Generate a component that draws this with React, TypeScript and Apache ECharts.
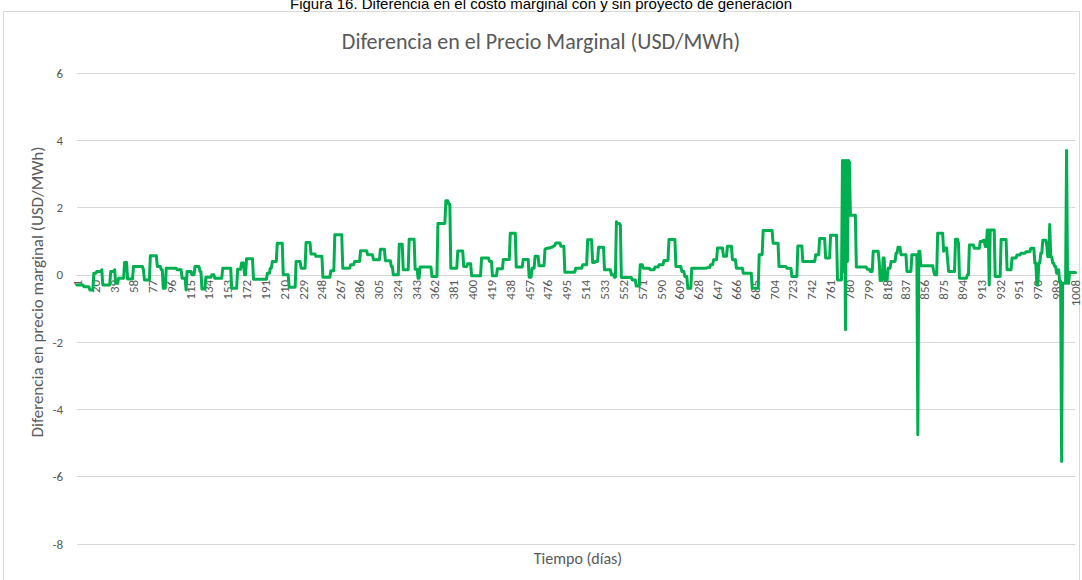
import React, { useEffect, useRef } from "react";
import * as echarts from "echarts";

const figureCaption = "Figura 16. Diferencia en el costo marginal con y sin proyecto de generación";
const chartTitle = "Diferencia en el Precio Marginal (USD/MWh)";
const yAxisTitle = "Diferencia en precio marginal (USD/MWh)";
const xAxisTitle = "Tiempo (días)";

const yTicks = { min: -8, max: 6, interval: 2 };

// Daily difference in marginal price (USD/MWh), days 1..1008
const diferencia: number[] = [
  // 1-20
  -0.3,-0.3,-0.3,-0.3,-0.3,-0.3,-0.3,-0.35,-0.35,-0.35,-0.35,-0.35,-0.35,-0.45,-0.45,-0.45,-0.45,0.05,0.05,0.05,
  // 21-40
  0.1,0.1,0.1,0.1,0.1,0.15,-0.3,-0.3,-0.3,-0.3,-0.3,-0.3,-0.3,-0.3,0.1,0.1,0.1,0.1,0.15,-0.25,
  // 41-60
  -0.25,-0.25,-0.1,-0.1,-0.1,-0.1,-0.1,-0.1,0.37,0.37,0.37,-0.12,-0.12,-0.12,-0.12,-0.12,-0.12,0.25,0.25,0.25,
  // 61-80
  0.25,0.25,0.25,0.25,0.25,0.25,0.25,0.15,-0.15,-0.15,-0.15,-0.15,-0.15,-0.15,0.57,0.57,0.57,0.57,0.57,0.57,
  // 81-100
  0.57,0.25,0.25,0.25,0.25,0.15,0.15,-0.4,-0.4,-0.4,0.2,0.2,0.2,0.2,0.2,0.2,0.2,0.2,0.2,0.2,
  // 101-120
  0.2,0.15,0.15,0.15,0.15,0.15,-0.1,-0.1,-0.1,-0.1,-0.45,0.1,0.1,0.1,0.1,0.1,0,0,0,0.25,
  // 121-140
  0.25,0.25,0.25,0.25,0.1,0.1,-0.42,-0.42,-0.42,-0.42,-0.07,-0.07,-0.07,-0.07,-0.07,-0.07,0,0,0,-0.1,
  // 141-160
  -0.1,-0.1,-0.1,-0.1,-0.1,-0.1,-0.1,0.2,0.2,0.2,0.2,0.2,0.2,0.2,0.2,0.2,-0.4,-0.4,-0.4,-0.4,
  // 161-180
  -0.4,-0.4,0.17,0.17,0.17,0.17,0.35,0.35,0.35,0,0,0.48,0.48,0.48,0.48,0.48,0.48,0.48,-0.13,-0.13,
  // 181-200
  -0.13,-0.13,-0.13,-0.13,-0.13,-0.13,-0.13,-0.13,-0.13,-0.13,-0.13,-0.13,0.05,0.05,0.05,0.2,0.2,0.4,0.4,0.4,
  // 201-220
  0.4,0.4,0.94,0.94,0.94,0.94,0.94,0.94,0,0,0,0,0,0,-0.37,-0.37,-0.37,-0.37,-0.37,-0.37,
  // 221-240
  -0.37,0.4,0.4,0.4,0.4,0.4,0.2,0.2,0.2,0.2,0.2,0.96,0.96,0.96,0.96,0.96,0.62,0.62,0.62,0.62,
  // 241-260
  0.62,0.55,0.55,0.55,0.55,0.55,0.55,0.55,-0.07,-0.07,-0.07,-0.07,-0.07,-0.07,-0.07,-0.07,0.12,0.12,0.12,0.12,
  // 261-280
  1.19,1.19,1.19,1.19,1.19,1.19,1.19,1.19,0.2,0.2,0.2,0.2,0.2,0.2,0.2,0.2,0.3,0.3,0.3,0.3,
  // 281-300
  0.4,0.4,0.4,0.4,0.4,0.4,0.72,0.72,0.72,0.72,0.72,0.72,0.72,0.6,0.6,0.6,0.6,0.6,0.6,0.45,
  // 301-320
  0.45,0.45,0.45,0.45,0.45,0.45,0.76,0.76,0.76,0.76,0.76,0.42,0.42,0.42,0.42,0.42,0.42,0.25,0.25,0,
  // 321-340
  0,0,0,0,0,0.91,0.91,0.91,0.91,0.15,0.15,0.15,0.15,0.15,0.15,1.06,1.06,1.06,1.06,1.06,
  // 341-360
  1.06,0.17,0.17,0.17,-0.1,-0.1,0.23,0.23,0.23,0.23,0.23,0.23,0.23,0.23,0.23,0.23,0.23,0.23,-0.05,-0.05,
  // 361-380
  -0.05,-0.05,-0.05,-0.05,1.53,1.53,1.53,1.53,1.53,1.53,1.53,1.53,2.2,2.2,2.2,2.1,2.1,0.2,0.2,0.2,
  // 381-400
  0.2,0.2,0.2,0.2,0.71,0.71,0.71,0.71,0.71,0.71,0.25,0.25,0.25,0.25,0.33,0.33,0.33,0.33,-0.03,-0.03,
  // 401-420
  -0.03,-0.03,-0.03,-0.03,-0.03,-0.03,-0.03,-0.03,0.5,0.5,0.5,0.5,0.5,0.5,0.5,0.5,0.4,0.4,0.4,-0.03,
  // 421-440
  -0.03,-0.03,-0.03,-0.03,0.18,0.18,0.18,0.18,0.18,0.18,0.46,0.46,0.46,0.46,0.46,0.46,0.46,1.24,1.24,1.24,
  // 441-460
  1.24,1.24,1.24,0.23,0.23,0.23,0.23,0.23,0.23,0.23,0.46,0.46,0.46,0.46,0.46,0.46,-0.07,-0.07,-0.07,0.2,
  // 461-480
  0.2,0.2,0.55,0.55,0.55,0.55,0.27,0.27,0.27,0.27,0.27,0.27,0.76,0.78,0.78,0.8,0.8,0.8,0.82,0.82,
  // 481-500
  0.84,0.86,0.88,0.95,0.95,0.95,0.95,0.95,0.85,0.85,0.85,0.85,0.08,0.08,0.08,0.08,0.08,0.08,0.08,0.08,
  // 501-520
  0.08,0.08,0.08,0.2,0.2,0.2,0.2,0.2,0.2,0.2,0.3,0.3,0.3,0.3,0.3,1.04,1.04,1.04,1.04,1.04,
  // 521-540
  0.37,0.37,0.37,0.4,0.4,0.4,0.82,0.82,0.82,0.82,0.82,0.82,0.15,0.15,0.15,0.15,0.15,0.15,0.15,0,
  // 541-560
  0,0,-0.07,-0.07,1.58,1.53,1.53,1.53,1.48,-0.08,-0.08,-0.08,-0.08,-0.08,-0.08,-0.08,-0.08,-0.08,-0.08,-0.08,
  // 561-580
  -0.15,-0.15,-0.15,-0.15,-0.33,-0.33,-0.33,-0.33,0.3,0.3,0.3,0.2,0.2,0.2,0.2,0.2,0.2,0.2,0.15,0.15,
  // 581-600
  0.15,0.15,0.15,0.23,0.23,0.23,0.23,0.3,0.3,0.3,0.3,0.3,0.43,0.43,0.43,0.43,0.43,1.05,1.05,1.05,
  // 601-620
  1.05,1.05,1.05,1.05,0.25,0.25,0.25,0.25,0.25,0.25,0.1,0.1,0.1,-0.05,-0.05,-0.05,-0.4,-0.4,-0.4,-0.4,
  // 621-640
  0.2,0.2,0.2,0.2,0.2,0.2,0.2,0.2,0.2,0.2,0.2,0.2,0.2,0.2,0.2,0.2,0.22,0.22,0.22,0.3,
  // 641-660
  0.3,0.3,0.45,0.45,0.45,0.45,0.8,0.8,0.8,0.8,0.8,0.8,0.55,0.55,0.55,0.55,0.85,0.85,0.85,0.85,
  // 661-680
  0.85,0.45,0.45,0.45,0.45,0.2,0.2,0.2,0.2,0.2,0.2,0.2,0.05,0.05,0.05,0.05,0.05,0.05,0.05,0.05,
  // 681-700
  0.05,-0.4,-0.4,-0.4,-0.4,-0.4,-0.4,-0.4,0.6,0.6,0.6,0.6,1.32,1.32,1.32,1.32,1.32,1.32,1.32,1.32,
  // 701-720
  1.32,1.32,0.94,0.94,0.94,0.94,0.94,0.94,0.25,0.25,0.25,0.25,0.25,0.25,0.25,0.25,0.2,0.2,0.2,0.2,
  // 721-740
  0.2,-0.05,-0.05,-0.05,-0.05,-0.05,-0.05,0.86,0.86,0.86,0.86,0.86,0.4,0.4,0.4,0.4,0.4,0.4,0.4,0.4,
  // 741-760
  0.4,0.4,0.4,0.4,0.4,0.6,0.6,0.6,0.6,1.08,1.08,1.08,1.08,1.08,1.08,0.5,0.5,0.5,0.5,0.5,
  // 761-780
  1.18,1.18,1.18,1.18,1.18,1.18,1.18,-0.15,-0.15,-0.15,-0.15,-0.15,3.4,0.1,3.4,-1.63,3.4,0.4,3.4,3.35,
  // 781-800
  1.77,1.77,1.77,1.77,1.77,1.77,0.23,0.23,0.23,0.23,0.23,0.23,0.23,0.23,0.23,0.23,0.23,0.17,0.17,0.17,
  // 801-820
  0.1,0.1,0.1,0.7,0.7,0.7,0.7,0.7,0.7,0.4,-0.17,-0.17,-0.17,0.5,0.5,-0.15,-0.15,-0.15,0.2,0.2,
  // 821-840
  0.2,0.4,0.4,0.4,0.4,0.4,0.64,0.64,0.82,0.82,0.82,0.6,0.6,0.6,0.6,0.6,0.6,0.1,0.1,0.1,
  // 841-860
  0.1,0.1,0.6,0.6,0.6,0.6,0.6,0.6,-4.75,0.7,0.7,0.27,0.27,0.27,0.27,0.27,0.27,0.27,0.27,0.27,
  // 861-880
  0.27,0.27,0.27,0.27,0.1,0,0,0,1.24,1.24,1.24,1.24,1.24,1.24,0.7,0.8,0.8,0.8,0.45,0.1,
  // 881-900
  0.1,0.1,0.1,0.1,0.1,0.1,1.06,1.06,1.06,0.94,-0.1,-0.1,-0.1,-0.1,-0.1,-0.1,-0.1,-0.1,0,0,
  // 901-920
  0.89,0.89,0.89,0.89,0.89,0.79,0.79,0.79,0.79,0.79,0.79,0.99,0.99,0.99,1.03,1.03,0.84,0.84,1.33,1.33,
  // 921-940
  -0.3,1.33,1.33,1.33,1.33,1.33,-0.05,-0.05,-0.05,-0.05,-0.05,-0.05,1.05,1.05,1.05,1.05,1.05,1.05,0.15,0.15,
  // 941-960
  0.15,0.15,0.15,0.5,0.5,0.5,0.5,0.5,0.59,0.59,0.59,0.59,0.64,0.64,0.64,0.64,0.64,0.69,0.69,0.69,
  // 961-980
  0.69,0.69,0.79,0.79,0.79,0.79,0.35,0.35,-0.3,-0.3,0.35,0.35,0.64,0.64,1.03,1.03,1.03,1.03,0.89,0.54,
  // 981-1000
  0.54,1.5,0.54,0.54,0.35,0.35,0.25,0.25,0.05,0.05,0.15,-0.2,-0.2,-5.55,-0.25,-0.25,-0.25,-0.25,3.7,-0.25,
  // 1001-1008
  -0.25,0.07,0.07,0.07,0.07,0.07,0.07,0.07,
];

// Category labels: day numbers 1..N
const dias: string[] = diferencia.map((_, i) => String(i + 1));

const FONT = "Carlito, Lato, 'Open Sans', sans-serif";
const GREY = "#595959";
const GRID = "#d9d9d9";

const GRID_TOP = 73;
const GRID_BOTTOM = 36;
const CHART_H = 580;

export default function App() {
  const ref = useRef<HTMLDivElement>(null);

  useEffect(() => {
    if (!ref.current) return;
    const chart = echarts.init(ref.current, undefined, { renderer: "svg" });
    // distance of the zero line above the grid bottom, so the category axis sits on y = 0
    const gridH = CHART_H - GRID_TOP - GRID_BOTTOM;
    const zeroOffset = (gridH * (0 - yTicks.min)) / (yTicks.max - yTicks.min);
    chart.setOption({
      animation: false,
      backgroundColor: "#ffffff",
      textStyle: { fontFamily: FONT },
      title: {
        text: chartTitle,
        left: "center",
        top: 25,
        textStyle: { fontFamily: FONT, fontSize: 22, fontWeight: "normal", color: GREY },
      },
      graphic: [
        {
          type: "rect",
          shape: { x: 3.5, y: 11.5, width: 1076, height: 580 },
          style: { fill: "none", stroke: GRID, lineWidth: 1 },
          silent: true,
        },
        {
          type: "text",
          x: 541,
          y: 3,
          style: {
            text: figureCaption,
            fontFamily: "'Liberation Sans', Arial, sans-serif",
            fontSize: 15,
            fill: "#000000",
            align: "center",
            verticalAlign: "middle",
          },
        },
        {
          type: "text",
          x: 37,
          y: 292,
          rotation: Math.PI / 2,
          style: {
            text: yAxisTitle,
            fontFamily: FONT,
            fontSize: 17,
            fill: GREY,
            align: "center",
            verticalAlign: "middle",
          },
        },
        {
          type: "text",
          x: 578,
          y: 558,
          style: {
            text: xAxisTitle,
            fontFamily: FONT,
            fontSize: 16,
            fill: GREY,
            align: "center",
            verticalAlign: "middle",
          },
        },
      ],
      grid: { left: 77, right: 3, top: GRID_TOP, bottom: GRID_BOTTOM, containLabel: false },
      xAxis: {
        type: "category",
        data: dias,
        boundaryGap: false,
        offset: -zeroOffset,
        axisLine: { onZero: false, lineStyle: { color: GRID, width: 1 } },
        axisTick: { show: false },
        splitLine: { show: false },
        axisLabel: {
          interval: 18,
          rotate: 90,
          fontSize: 13,
          color: GREY,
          fontFamily: FONT,
          margin: 5,
        },
      },
      yAxis: {
        type: "value",
        min: yTicks.min,
        max: yTicks.max,
        interval: yTicks.interval,
        axisLine: { show: false },
        axisTick: { show: false },
        splitLine: { lineStyle: { color: GRID, width: 1 } },
        axisLabel: { fontSize: 13, color: GREY, fontFamily: FONT, margin: 14 },
      },
      series: [
        {
          type: "line",
          data: diferencia,
          showSymbol: false,
          symbol: "none",
          lineStyle: { color: "#00b050", width: 3, join: "round", cap: "round" },
          itemStyle: { color: "#00b050" },
          z: 3,
        },
      ],
    });
    return () => chart.dispose();
  }, []);

  return (
    <div
      ref={ref}
      style={{ position: "absolute", left: 0, top: 0, width: 1082, height: 580 }}
    />
  );
}
